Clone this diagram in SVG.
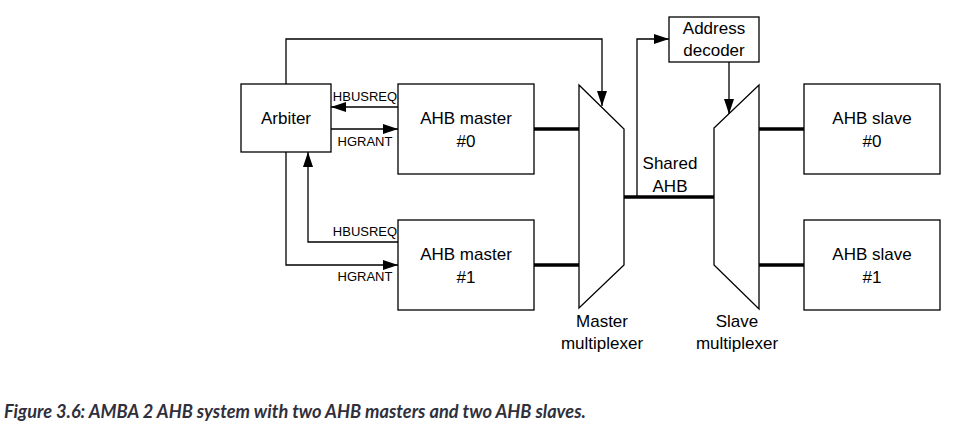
<svg xmlns="http://www.w3.org/2000/svg" width="961" height="429" viewBox="0 0 961 429">
<style>
.box{fill:#fff;stroke:#000;stroke-width:1.3}
.ln{fill:none;stroke:#000;stroke-width:1.3}
.bus{fill:none;stroke:#000;stroke-width:3.6}
.t{font-family:"Liberation Sans",Arial,sans-serif;font-size:17px;fill:#000;text-anchor:middle}
.s{font-family:"Liberation Sans",Arial,sans-serif;font-size:13px;fill:#000;text-anchor:middle}
.cap{font-family:Lato,"Liberation Sans",sans-serif;font-size:18.2px;font-weight:bold;font-style:italic;fill:#30303c}
</style>
<defs>
<marker id="ah" markerUnits="userSpaceOnUse" markerWidth="16" markerHeight="10" refX="15" refY="5" orient="auto">
<path d="M0,0 L15,5 L0,10 z" fill="#000"/>
</marker>
</defs>
<rect width="961" height="429" fill="#fff"/>
<g id="connectors">
<polyline class="ln" points="286,84 286,39 602,39 602,106" marker-end="url(#ah)"/>
<line class="ln" x1="398" y1="107" x2="331" y2="107" marker-end="url(#ah)"/>
<line class="ln" x1="331" y1="129" x2="398" y2="129" marker-end="url(#ah)"/>
<polyline class="ln" points="286,152 286,265 398,265" marker-end="url(#ah)"/>
<polyline class="ln" points="398,242 308,242 308,152" marker-end="url(#ah)"/>
<line class="bus" x1="534" y1="129" x2="579" y2="129"/>
<line class="bus" x1="534" y1="265" x2="579" y2="265"/>
<line class="bus" x1="624" y1="197" x2="714" y2="197"/>
<polyline class="ln" points="637,197 637,39 669,39" marker-end="url(#ah)"/>
<line class="ln" x1="729" y1="62" x2="729" y2="114" marker-end="url(#ah)"/>
<line class="bus" x1="759" y1="129" x2="804" y2="129"/>
<line class="bus" x1="759" y1="265" x2="804" y2="265"/>
<text class="s" x="365" y="101">HBUSREQ</text>
<text class="s" x="365" y="146">HGRANT</text>
<text class="s" x="365" y="236">HBUSREQ</text>
<text class="s" x="365" y="281">HGRANT</text>
<text class="t" x="670" y="169">Shared</text>
<text class="t" x="670" y="192">AHB</text>
</g>
<g id="arbiter">
<rect class="box" x="241" y="84" width="90" height="68"/>
<text class="t" x="286" y="124">Arbiter</text>
</g>
<g id="master0">
<rect class="box" x="398" y="84" width="136" height="90"/>
<text class="t" x="466" y="124">AHB master</text>
<text class="t" x="466" y="147">#0</text>
</g>
<g id="master1">
<rect class="box" x="398" y="220" width="136" height="90"/>
<text class="t" x="466" y="260">AHB master</text>
<text class="t" x="466" y="283">#1</text>
</g>
<g id="master-mux">
<polygon class="box" points="579,85 624,129 624,265 579,308"/>
<text class="t" x="602" y="327">Master</text>
<text class="t" x="602" y="349">multiplexer</text>
</g>
<g id="address-decoder">
<rect class="box" x="669" y="17" width="90" height="45"/>
<text class="t" x="714" y="34">Address</text>
<text class="t" x="714" y="56">decoder</text>
</g>
<g id="slave-mux">
<polygon class="box" points="759,85 759,309 714,265 714,128"/>
<text class="t" x="737" y="327">Slave</text>
<text class="t" x="737" y="349">multiplexer</text>
</g>
<g id="slave0">
<rect class="box" x="804" y="84" width="136" height="90"/>
<text class="t" x="872" y="124">AHB slave</text>
<text class="t" x="872" y="147">#0</text>
</g>
<g id="slave1">
<rect class="box" x="804" y="220" width="136" height="90"/>
<text class="t" x="872" y="260">AHB slave</text>
<text class="t" x="872" y="283">#1</text>
</g>
<text class="cap" x="4" y="418">Figure 3.6: AMBA 2 AHB system with two AHB masters and two AHB slaves.</text>
</svg>
